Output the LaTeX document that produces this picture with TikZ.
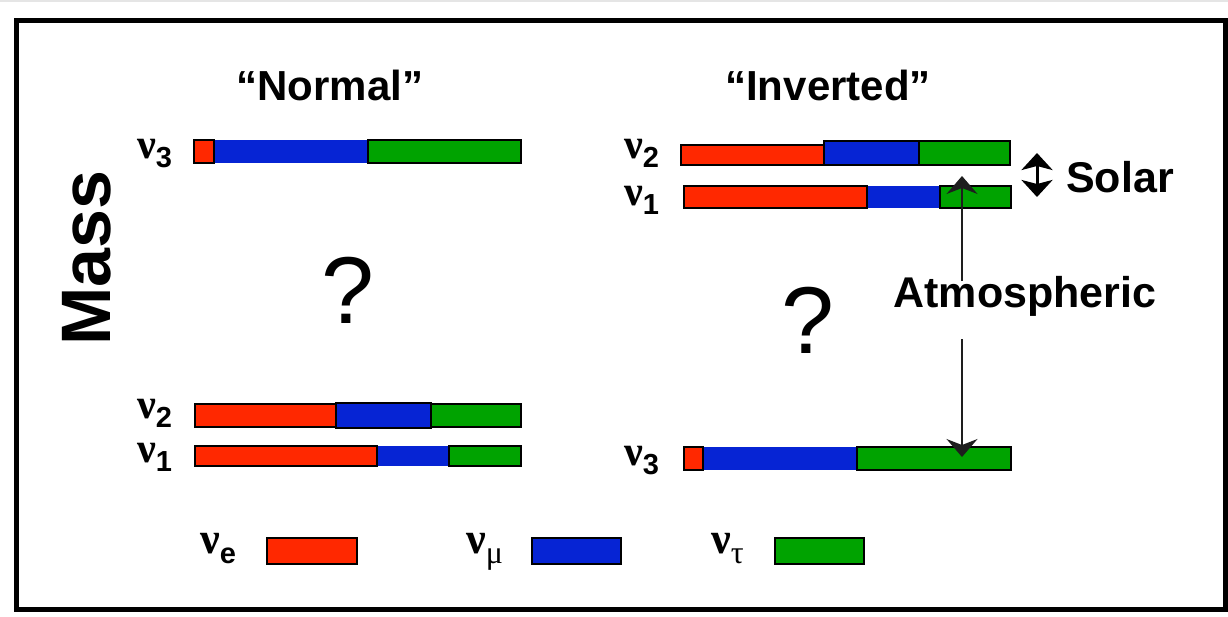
\documentclass[tikz,border=0pt]{standalone}
\usepackage{fontspec}
\setmainfont{Liberation Sans}
\newfontfamily\greekfont{Liberation Serif}
\usetikzlibrary{arrows.meta}
\definecolor{nue}{RGB}{255,40,0}
\definecolor{numu}{RGB}{6,36,212}
\definecolor{nutau}{RGB}{0,163,0}
\definecolor{arrowgray}{RGB}{30,30,30}
\newcommand\nusym{{\greekfont\bfseries\fontsize{42}{42}\selectfont ν}}
\newcommand\subdigit[1]{\raisebox{-9pt}{\bfseries\fontsize{29}{29}\selectfont #1}}
\tikzset{
  edged/.style={draw=black, line width=1.3pt},
  ebar/.style={edged, fill=nue},
  mubar/.style={edged, fill=numu},
  taubar/.style={edged, fill=nutau},
  mufill/.style={fill=numu},
  nulab/.style={inner sep=0pt, anchor=base west},
  title/.style={inner sep=0pt, anchor=base, font=\bfseries\fontsize{42}{42}\selectfont},
  bigq/.style={inner sep=0pt, anchor=base, font=\fontsize{95}{95}\selectfont},
  lbl/.style={inner sep=0pt, font=\bfseries\fontsize{43}{43}\selectfont},
  atm/.style={draw=arrowgray, line width=1.5pt, -{Stealth[length=18pt, width=31pt, inset=6pt]}},
  solar/.style={draw=black, line width=3pt, {Stealth[length=17pt, width=31pt, inset=4pt]}-{Stealth[length=17pt, width=31pt, inset=4pt]}},
}
\begin{document}
\begin{tikzpicture}[x=1pt, y=-1pt]
\useasboundingbox (0,0) rectangle (1228,616);
\fill[white] (0,0) rectangle (1228,616);
\fill[black!10] (0,0) rectangle (1228,2);
% outer frame
\draw[line width=5pt] (16.5,20.5) rectangle (1225,609.5);

% titles
\node[title] (tn) at (330,100) {“Normal”};
\node[title] (ti) at (828,100) {“Inverted”};

% mass axis label
\node[inner sep=0pt, anchor=base, rotate=90, font=\bfseries\fontsize{70}{70}\selectfont] (mass) at (110,258) {Mass};

% normal ordering: nu3
\fill[mufill] (214,140) rectangle (368,163);
\draw[ebar] (194,140) rectangle (214,163);
\draw[taubar] (368,140) rectangle (521,163);
% normal ordering: nu2
\draw[ebar] (195,404) rectangle (336,427);
\draw[mubar] (336,403) rectangle (431,428);
\draw[taubar] (431,404) rectangle (521,427);
% normal ordering: nu1
\fill[mufill] (377,446) rectangle (449,466);
\draw[ebar] (195,446) rectangle (377,466);
\draw[taubar] (449,446) rectangle (521,466);

% inverted ordering: nu2
\draw[ebar] (681,145) rectangle (824,165);
\draw[mubar] (824,141) rectangle (919,165);
\draw[taubar] (919,141) rectangle (1010,165);
% inverted ordering: nu1
\fill[mufill] (867,186) rectangle (940,208);
\draw[ebar] (684,186) rectangle (867,208);
\draw[taubar] (940,186) rectangle (1011,208);
% inverted ordering: nu3
\fill[mufill] (703,447) rectangle (857,470);
\draw[ebar] (684,447) rectangle (703,470);
\draw[taubar] (857,447) rectangle (1011,470);

% mass state labels
\node[nulab] (n3) at (137,158) {\nusym\subdigit{3}};
\node[nulab] (n2) at (137,418) {\nusym\subdigit{2}};
\node[nulab] (n1) at (137,462) {\nusym\subdigit{1}};
\node[nulab] (i2) at (624,158) {\nusym\subdigit{2}};
\node[nulab] (i1) at (624,205) {\nusym\subdigit{1}};
\node[nulab] (i3) at (624,465) {\nusym\subdigit{3}};

% question marks
\node[bigq] (qn) at (348,323) {?};
\node[bigq] (qi) at (808,353) {?};

% splittings
\node[lbl, anchor=base] (atmlbl) at (1025,307) {Atmospheric};
\node[lbl, anchor=base west] (sollbl) at (1066,192) {Solar};
\coordinate (soltop) at (1037,153);
\coordinate (solbot) at (1037,197);
\draw[solar] (soltop) -- (solbot);
\coordinate (atmtop) at (962,281);
\coordinate (atmbot) at (962,339);
\coordinate (gap12) at (962,176);
\coordinate (on3) at (962,457);
\draw[atm] (atmtop) -- (gap12);
\draw[atm] (atmbot) -- (on3);

% flavour legend
\node[nulab] (le) at (200,553) {{\greekfont\bfseries\fontsize{44}{44}\selectfont ν}\raisebox{-10pt}{\bfseries\fontsize{29}{29}\selectfont e}};
\draw[ebar] (267,538) rectangle (357,564) node[midway, inner sep=0pt] (be) {};
\node[nulab] (lm) at (466,553) {{\greekfont\bfseries\fontsize{44}{44}\selectfont ν}\raisebox{-10pt}{\greekfont\fontsize{32}{32}\selectfont μ}};
\draw[mubar] (532,538) rectangle (621,564) node[midway, inner sep=0pt] (bm) {};
\node[nulab] (lt) at (711,553) {{\greekfont\bfseries\fontsize{44}{44}\selectfont ν}\raisebox{-10pt}{\greekfont\fontsize{32}{32}\selectfont τ}};
\draw[taubar] (775,538) rectangle (864,564) node[midway, inner sep=0pt] (bt) {};
\end{tikzpicture}
\end{document}
